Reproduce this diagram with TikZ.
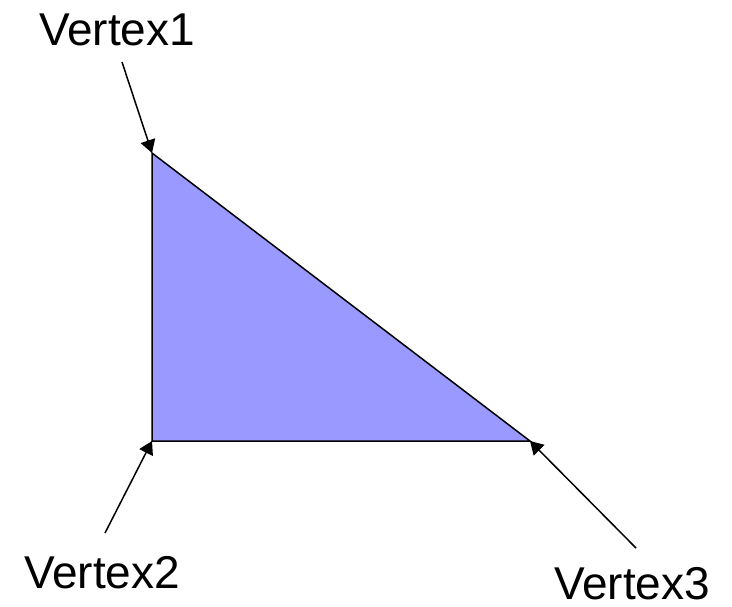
\documentclass[tikz,border=0pt]{standalone}
\usepackage{fontspec}
\setmainfont{Liberation Sans}
\usetikzlibrary{arrows.meta}
\begin{document}
\begin{tikzpicture}[x=1pt,y=-1pt,
                    edge/.style={line width=1.5pt},
                    pointer/.style={line width=1.5pt,-{Triangle[length=13pt,width=15pt]}},
                    every node/.style={font=\fontsize{46}{52}\selectfont,inner sep=0pt,text depth=0pt}]
 \useasboundingbox (0,0) rectangle (732,606);
 \coordinate (v1) at (152,153); \coordinate (v2) at (152,441);
 \coordinate (v3) at (530,441);
 \fill[fill={rgb,255:red,153;green,153;blue,255}] (v1)--(v2)--(v3)--cycle;
 \draw[edge] (v1)--(v2)--(v3)--cycle;
 \node[anchor=base] (l1) at (117,45) {Vertex1};
 \node[anchor=base] (l2) at (102,588) {Vertex2};
 \node[anchor=base] (l3) at (632,599) {Vertex3};
 \coordinate (t1) at (122,62); \coordinate (t2) at (105,533);
 \coordinate (t3) at (636,548);
 \draw[pointer] (t1)--(v1);
 \draw[pointer] (t2)--(v2);
 \draw[pointer] (t3)--(v3);
\end{tikzpicture}
\end{document}
